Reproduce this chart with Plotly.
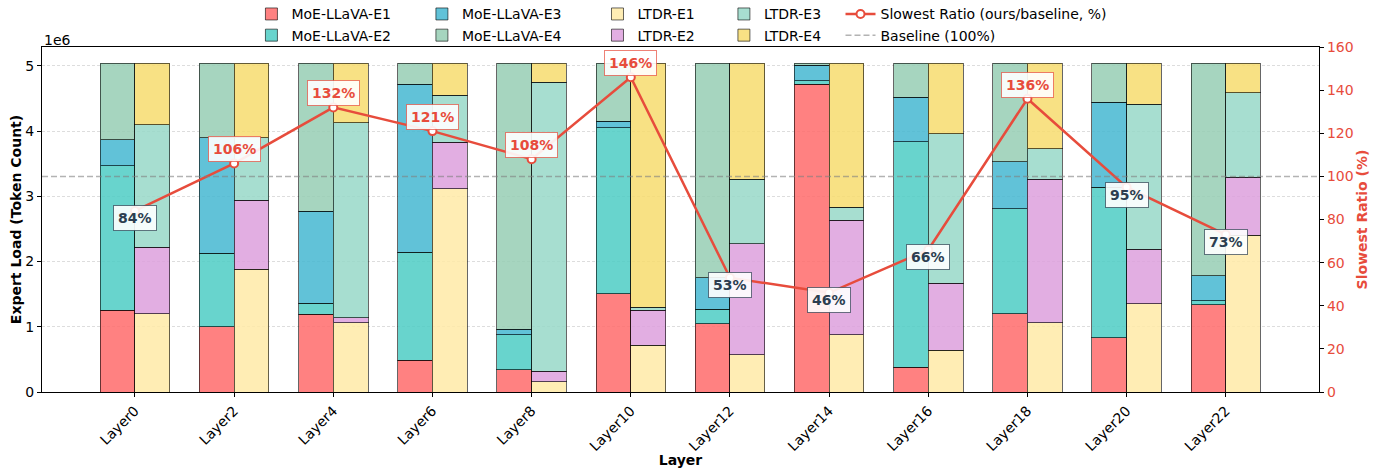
import plotly.graph_objects as go

# Layers shown on the x axis
layers = ["Layer0", "Layer2", "Layer4", "Layer6", "Layer8", "Layer10",
          "Layer12", "Layer14", "Layer16", "Layer18", "Layer20", "Layer22"]

# Per-expert token counts, MoE-LLaVA baseline routing
moe_e1 = [1250000, 1000000, 1190000, 490000, 340000, 1510000, 1050000, 4720000, 380000, 1200000, 830000, 1340000]
moe_e2 = [2220000, 1130000, 170000, 1650000, 540000, 2540000, 220000, 50000, 3460000, 1610000, 2310000, 60000]
moe_e3 = [400000, 1770000, 1410000, 2580000, 80000, 100000, 480000, 240000, 680000, 720000, 1300000, 380000]
moe_e4 = [1170000, 1140000, 2270000, 320000, 4080000, 890000, 3290000, 30000, 520000, 1510000, 600000, 3260000]

# Per-expert token counts, LTDR routing
ltdr_e1 = [1200000, 1880000, 1060000, 3120000, 160000, 720000, 570000, 880000, 640000, 1060000, 1350000, 2400000]
ltdr_e2 = [1020000, 1060000, 80000, 710000, 160000, 530000, 1700000, 1750000, 1030000, 2200000, 840000, 890000]
ltdr_e3 = [1880000, 960000, 2990000, 720000, 4430000, 50000, 990000, 200000, 2290000, 470000, 2220000, 1300000]
ltdr_e4 = [940000, 1140000, 910000, 490000, 290000, 3740000, 1780000, 2210000, 1080000, 1310000, 630000, 450000]

# Slowest-expert load ratio, ours vs. baseline (%)
slowest_ratio = [84, 106, 132, 121, 108, 146, 53, 46, 66, 136, 95, 73]

y_ticks = [0, 1000000, 2000000, 3000000, 4000000, 5000000]
y_tick_text = ["0", "1", "2", "3", "4", "5"]
ratio_ticks = [0, 20, 40, 60, 80, 100, 120, 140, 160]

FONT = "DejaVu Sans"
RED = "#e74c3c"
DARK = "#2c3e50"
BAR_W = 0.35
EDGE = dict(color="rgba(0,0,0,0.6)", width=1)

idx = list(range(len(layers)))
x_moe = [i - BAR_W / 2 for i in idx]
x_ltdr = [i + BAR_W / 2 for i in idx]

fig = go.Figure()

moe_series = [
    ("MoE-LLaVA-E1", moe_e1, "rgba(255,107,107,0.85)", "legend"),
    ("MoE-LLaVA-E2", moe_e2, "rgba(78,205,196,0.85)", "legend"),
    ("MoE-LLaVA-E3", moe_e3, "rgba(69,183,209,0.85)", "legend2"),
    ("MoE-LLaVA-E4", moe_e4, "rgba(150,206,180,0.85)", "legend2"),
]
ltdr_series = [
    ("LTDR-E1", ltdr_e1, "rgba(255,234,167,0.85)", "legend3"),
    ("LTDR-E2", ltdr_e2, "rgba(221,160,221,0.85)", "legend3"),
    ("LTDR-E3", ltdr_e3, "rgba(152,216,200,0.85)", "legend4"),
    ("LTDR-E4", ltdr_e4, "rgba(247,220,111,0.85)", "legend4"),
]

for name, vals, color, leg in moe_series:
    fig.add_trace(go.Bar(x=x_moe, y=vals, width=BAR_W, name=name, legend=leg,
                         marker=dict(color=color, line=EDGE)))
for name, vals, color, leg in ltdr_series:
    fig.add_trace(go.Bar(x=x_ltdr, y=vals, width=BAR_W, name=name, legend=leg,
                         marker=dict(color=color, line=EDGE)))

fig.add_trace(go.Scatter(
    x=idx, y=slowest_ratio, yaxis="y2", mode="lines+markers",
    name="Slowest Ratio (ours/baseline, %)", legend="legend5",
    line=dict(color=RED, width=2.5),
    marker=dict(symbol="circle", size=8, color="white", line=dict(color=RED, width=2)),
))

# 100% reference line on the ratio axis
fig.add_shape(type="line", xref="paper", x0=0, x1=1, yref="y2", y0=100, y1=100,
              line=dict(color="rgba(128,128,128,0.6)", width=1.5, dash="6px,3px"),
              layer="above", showlegend=True, name="Baseline (100%)", legend="legend5")

for i, r in zip(idx, slowest_ratio):
    above = r > 100
    fig.add_annotation(
        x=i, y=r, yref="y2", text=f"{r}%", showarrow=False,
        yshift=14 if above else -7.5,
        font=dict(family=FONT, size=14, color=RED if above else DARK, weight="bold"),
        bgcolor="rgba(255,255,255,0.9)",
        bordercolor="rgba(231,76,60,0.7)" if above else "rgba(44,62,80,0.7)",
        borderwidth=1, borderpad=4,
    )

fig.add_annotation(xref="paper", yref="paper", x=0, y=1.02, xanchor="left",
                   yanchor="middle", text="1e6", showarrow=False,
                   font=dict(family=FONT, size=14, color="black"))

legend_common = dict(orientation="v", yanchor="top", y=1.141, xanchor="left",
                     traceorder="normal",
                     bgcolor="rgba(0,0,0,0)", font=dict(family=FONT, size=14, color="black"),
                     tracegroupgap=0, itemwidth=30)

fig.update_layout(
    width=1395, height=468,
    margin=dict(l=42, r=76, t=47, b=76, autoexpand=False),
    barmode="stack",
    plot_bgcolor="white", paper_bgcolor="white",
    font=dict(family=FONT, size=14, color="black"),
    legend=dict(x=0.164, **legend_common),
    legend2=dict(x=0.2975, **legend_common),
    legend3=dict(x=0.435, **legend_common),
    legend4=dict(x=0.534, **legend_common),
    legend5=dict(x=0.6253, **legend_common),
    xaxis=dict(
        range=[-0.9375, 11.94], tickmode="array", tickvals=idx, ticktext=layers,
        tickangle=-45, ticks="outside", ticklen=4, tickcolor="black",
        showline=True, linecolor="black", linewidth=1.2, mirror=True,
        showgrid=False, zeroline=False, automargin=False,
        title=dict(text="Layer", standoff=8, font=dict(family=FONT, size=14, weight="bold")),
    ),
    yaxis=dict(
        range=[0, 5290000], tickmode="array", tickvals=y_ticks, ticktext=y_tick_text,
        ticks="outside", ticklen=4, tickcolor="black",
        showline=True, linecolor="black", linewidth=1.2,
        showgrid=True, gridcolor="#dddddd", griddash="3px,2px", gridwidth=1,
        zeroline=False, automargin=False,
        title=dict(text="Expert Load (Token Count)", standoff=0,
                   font=dict(family=FONT, size=14, weight="bold")),
    ),
    yaxis2=dict(
        overlaying="y", side="right", range=[0, 160], tickvals=ratio_ticks,
        ticks="outside", ticklen=4, tickcolor="black",
        tickfont=dict(family=FONT, size=14, color=RED),
        showline=True, linecolor="black", linewidth=1.2,
        showgrid=False, zeroline=False, automargin=False,
        title=dict(text="Slowest Ratio (%)", standoff=4,
                   font=dict(family=FONT, size=14, color=RED, weight="bold")),
    ),
)

fig.write_html("out.html")
